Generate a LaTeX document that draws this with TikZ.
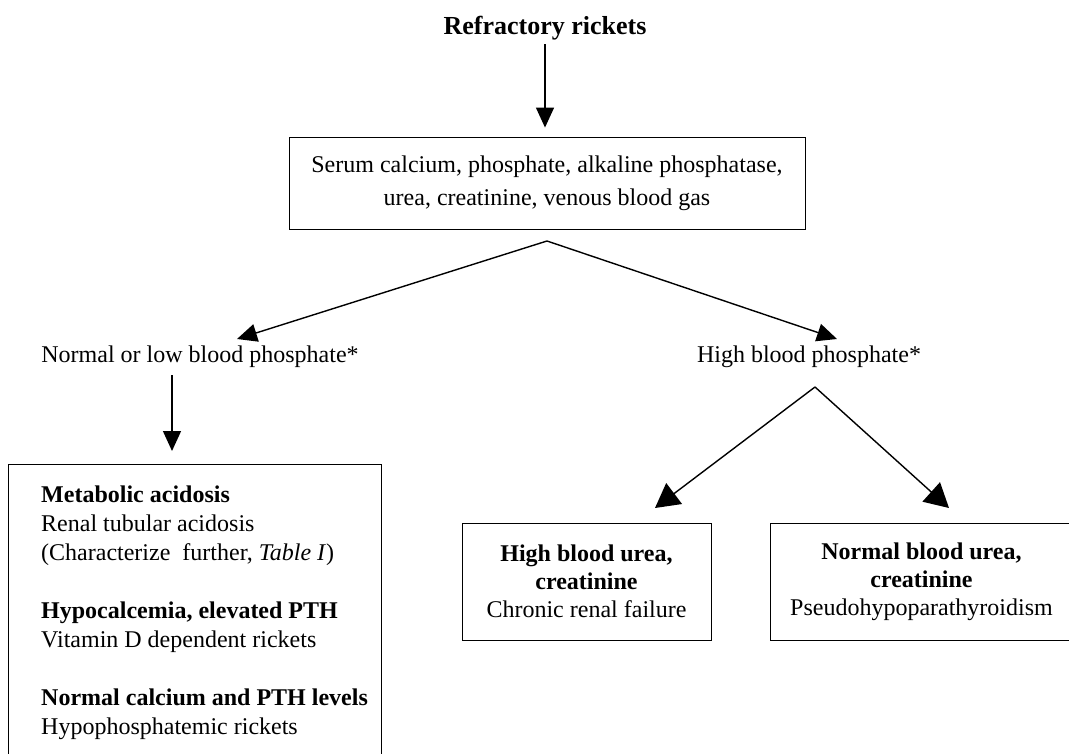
\documentclass[tikz,border=0pt]{standalone}
\usepackage{fontspec}
\setmainfont{Liberation Serif}
\usetikzlibrary{arrows.meta}
\begin{document}
\begin{tikzpicture}[x=1pt,y=-1pt,
  txt/.style={font=\fontsize{24}{28}\selectfont, inner sep=0pt},
  box/.style={draw, line width=0.9pt, txt, align=center},
  arr/.style={line width=1.4pt, -{Triangle[length=20pt,width=18pt]}},
  bigarr/.style={line width=1.4pt, -{Triangle[length=24pt,width=26pt]}}]
\useasboundingbox (0,0) rectangle (1069,754);
\node[txt, font=\fontsize{26}{30}\selectfont\bfseries] (title) at (545,28) {Refractory rickets};
\node[box, minimum width=516pt, minimum height=92pt, font=\fontsize{24}{33}\selectfont] (serum) at (547,183)
  {Serum calcium, phosphate, alkaline phosphatase,\\ urea, creatinine, venous blood gas};
\draw[arr, shorten <=4pt, shorten >=9pt] (title.south) -- (title.south |- serum.north);

\coordinate (apex) at (547,241);
\node[txt] (nlow) at (200,357) {Normal or low blood phosphate*};
\node[txt] (high) at (809,357) {High blood phosphate*};
\coordinate (tipL) at (237,339);
\coordinate (tipR) at (837,339);
\draw[arr] (apex) -- (tipL);
\draw[arr] (apex) -- (tipR);

\node[draw, line width=0.9pt, minimum width=373pt, minimum height=300pt, anchor=north west, inner sep=0pt] (leftbox) at (8,464) {};
\node[txt, anchor=north west, align=left, font=\fontsize{24}{29}\selectfont] (lefttext) at (41,486)
  {\textbf{Metabolic acidosis}\\ Renal tubular acidosis\\ (Characterize\ \ further, \textit{Table I})\\[29pt]
   \textbf{Hypocalcemia, elevated PTH}\\ Vitamin D dependent rickets\\[29pt]
   \textbf{Normal calcium and PTH levels}\\ Hypophosphatemic rickets};
\coordinate (dl) at (172,375);
\draw[arr, shorten >=13pt] (dl) -- (dl |- leftbox.north);

\coordinate (apex2) at (815,387);
\node[box, minimum width=249pt, minimum height=117pt] (hbu) at (586.5,581.5)
  {\textbf{High blood urea,}\\ \textbf{creatinine}\\ Chronic renal failure};
\node[box, minimum width=303pt, minimum height=117pt] (nbu) at (921.5,581.5)
  {\textbf{Normal blood urea,}\\ \textbf{creatinine}\\ Pseudohypoparathyroidism};
\coordinate (tipHL) at (655,508);
\coordinate (tipHR) at (949,508);
\draw[bigarr] (apex2) -- (tipHL);
\draw[bigarr] (apex2) -- (tipHR);
\end{tikzpicture}
\end{document}
